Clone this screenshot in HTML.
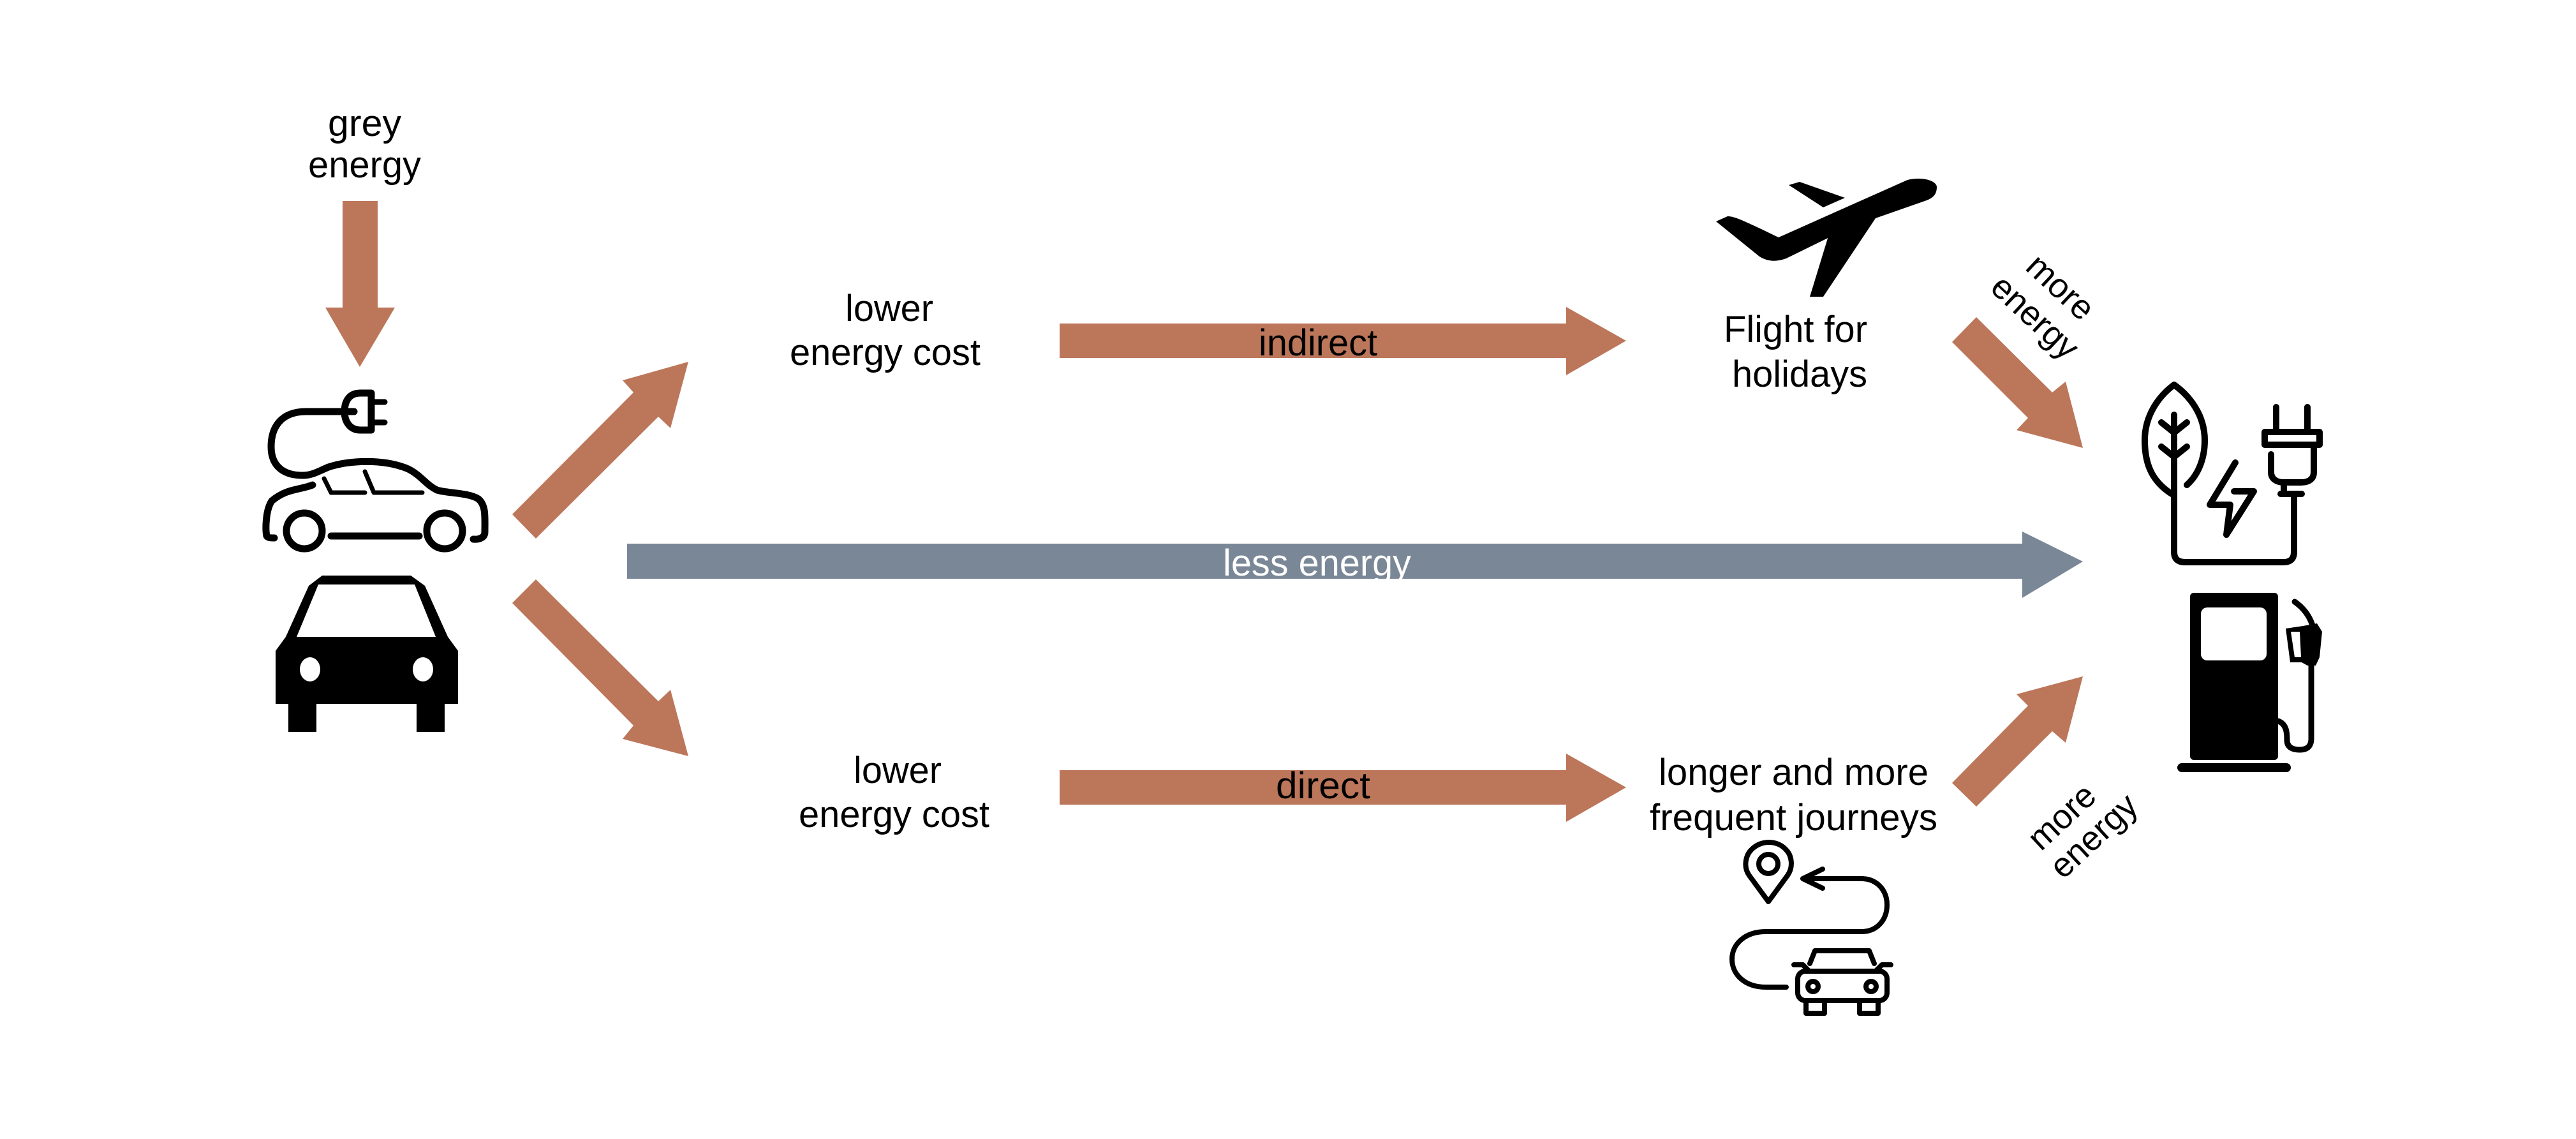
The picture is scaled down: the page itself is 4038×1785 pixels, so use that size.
<!DOCTYPE html>
<html><head><meta charset="utf-8"><style>html,body{margin:0;padding:0;background:#fff}svg{display:block}</style></head>
<body>
<svg xmlns="http://www.w3.org/2000/svg" width="4038" height="1785" viewBox="0 0 4038 1785" font-family="Liberation Sans, Arial, sans-serif">
<defs><clipPath id="gc"><rect x="980" y="852" width="2300" height="55"/></clipPath></defs>
<rect width="4038" height="1785" fill="#fff"/>
<g fill="#bc765a">
<polygon points="537,315 592,315 592,482 619,482 564,575 510,482 537,482"/>
<polygon points="803,806 840,844 1032,653 1051,671 1079,567 976,596 993,615"/>
<polygon points="803,945 840,908 1032,1099 1051,1081 1079,1185 976,1158 993,1137"/>
<polygon points="1661,507 2455,507 2455,481 2549,534 2455,588 2455,561 1661,561"/>
<polygon points="1661,1207 2455,1207 2455,1181 2549,1234 2455,1288 2455,1261 1661,1261"/>
<polygon points="3060,536 3098,497 3217,615 3238,598 3265,702 3161,674 3179,655"/>
<polygon points="3060,1227 3098,1264 3217,1146 3238,1164 3265,1060 3161,1088 3179,1106"/>
</g>
<polygon fill="#7a8797" points="983,852 3170,852 3170,833 3265,880 3170,937 3170,907 983,907"/>

<g font-size="58" fill="#000" text-anchor="start">
<text x="514" y="213" textLength="115" lengthAdjust="spacingAndGlyphs">grey</text>
<text x="483" y="278" textLength="177" lengthAdjust="spacingAndGlyphs">energy</text>
<text x="1325" y="503" textLength="138" lengthAdjust="spacingAndGlyphs">lower</text>
<text x="1238" y="572" textLength="299" lengthAdjust="spacingAndGlyphs">energy cost</text>
<text x="1338" y="1227" textLength="138" lengthAdjust="spacingAndGlyphs">lower</text>
<text x="1252" y="1296" textLength="299" lengthAdjust="spacingAndGlyphs">energy cost</text>
<text x="1973" y="557" textLength="186" lengthAdjust="spacingAndGlyphs">indirect</text>
<text x="2000" y="1251" textLength="148" lengthAdjust="spacingAndGlyphs">direct</text>
<text x="2702" y="536" textLength="225" lengthAdjust="spacingAndGlyphs">Flight for</text>
<text x="2715" y="606" textLength="212" lengthAdjust="spacingAndGlyphs">holidays</text>
<text x="2600" y="1230" textLength="423" lengthAdjust="spacingAndGlyphs">longer and more</text>
<text x="2586" y="1301" textLength="451" lengthAdjust="spacingAndGlyphs">frequent journeys</text>
</g>
<text x="1917" y="902" font-size="58" fill="#fff" textLength="295" lengthAdjust="spacingAndGlyphs" clip-path="url(#gc)">less energy</text>

<g font-size="54" fill="#000" text-anchor="middle">
<text transform="translate(3230,450) rotate(43)" y="18">more</text>
<text transform="translate(3190,497) rotate(43)" y="18">energy</text>
<text transform="translate(3232,1280) rotate(-43)" y="18">more</text>
<text transform="translate(3282,1310) rotate(-43)" y="18">energy</text>
</g>

<!-- EV car outline -->
<g fill="none" stroke="#000" stroke-width="11" stroke-linecap="round" stroke-linejoin="round">
<path d="M555,645 L480,645 C440,645 425,670 425,700 C425,735 450,745 474,745 C490,745 500,738 515,732 C545,722 600,718 640,735 C660,745 668,760 685,768 C700,773 735,772 750,782 C762,792 760,810 760,834 C760,842 752,846 742,845"/>
<path d="M582,616 L565,616 C545,616 540,632 540,645 C540,660 548,674 565,674 L582,674 Z"/>
<path d="M582,630 L603,630 M582,662 L603,662" stroke-width="9"/>
<path d="M490,760 C470,768 450,765 426,785 C416,800 416,830 418,840 C420,843 425,843 430,843"/>
<circle cx="477" cy="832" r="28"/>
<circle cx="697" cy="832" r="28"/>
<path d="M519,840 L657,840"/>
<path d="M508,750 L519,772 L572,772 M572,739 L586,772 L662,772" stroke-width="7"/>
</g>
<polygon fill="#000" points="505,902 644,902 666,918 702,998 718,1020 718,1103 697,1103 697,1147 653,1147 653,1103 496,1103 496,1147 452,1147 452,1103 432,1103 432,1020 448,998 484,918"/>
<polygon fill="#fff" points="499,916 650,916 683,998 465,998"/>
<ellipse cx="486" cy="1049" rx="16" ry="19" fill="#fff"/>
<ellipse cx="663" cy="1049" rx="16" ry="19" fill="#fff"/>

<g fill="#000">
<path d="M2690,347 L2708,339 C2718,339 2728,343 2788,372 L2990,282 C3015,276 3036,284 3036,293 C3036,305 3030,310 3020,314 L2900,356 L2800,405 C2780,412 2768,408 2758,402 Z"/>
<polygon points="2804,290 2821,285 2892,310 2858,325"/>
<polygon points="2867,367 2942,339 2858,465 2837,465"/>
</g>

<g fill="none" stroke="#000" stroke-width="8" stroke-linecap="round" stroke-linejoin="round">
<path d="M2772,1413 L2742,1372 C2732,1358 2737,1340 2745,1332 C2760,1316 2786,1316 2800,1332 C2808,1340 2812,1358 2802,1372 Z"/>
<circle cx="2772" cy="1354" r="15"/>
<path d="M2857,1362 L2826,1377 L2857,1392 M2826,1377 L2918,1377 C2942,1377 2958,1395 2958,1418 C2958,1442 2942,1460 2918,1460 L2768,1460 C2735,1460 2715,1480 2715,1503 C2715,1527 2735,1547 2768,1547 L2800,1547"/>
<path d="M2837,1510 L2845,1490 L2930,1490 L2938,1510"/>
<rect x="2818" y="1522" width="140" height="46" rx="12"/>
<path d="M2812,1512 L2826,1512 L2836,1522 M2964,1512 L2950,1512 L2940,1522"/>
<circle cx="2842" cy="1546" r="8"/><circle cx="2933" cy="1546" r="8"/>
<path d="M2831,1568 L2831,1588 L2860,1588 L2860,1568 M2915,1568 L2915,1588 L2944,1588 L2944,1568"/>
</g>

<g fill="none" stroke="#000" stroke-width="10" stroke-linecap="round" stroke-linejoin="round">
<path d="M3404,774 C3375,755 3362,730 3362,690 C3362,650 3385,620 3408,603 C3432,620 3456,650 3456,690 C3456,720 3445,745 3428,760"/>
<path d="M3408,650 L3408,865 C3408,876 3414,881 3425,881 L3580,881 C3590,881 3596,876 3596,865 L3596,774"/>
<path d="M3388,662 L3408,678 L3428,662 M3388,700 L3408,716 L3428,700"/>
<path d="M3575,774 L3608,774"/>
<path d="M3568,638 L3568,675 M3617,638 L3617,675"/>
<rect x="3550" y="677" width="86" height="20"/>
<path d="M3560,712 L3560,740 C3560,750 3568,756 3580,756 L3607,756 C3620,756 3627,750 3627,740 L3627,700"/>
<path d="M3580,756 L3580,774"/>
<path d="M3504,725 L3464,791 L3496,791 L3490,838 L3533,770 L3502,770"/>
</g>

<g fill="#000">
<rect x="3433" y="929" width="138" height="262" rx="6"/>
<rect x="3413" y="1196" width="178" height="14" rx="7"/>
<polygon points="3583,985 3610,981 3632,977 3640,990 3636,1030 3630,1043 3617,1043 3608,1038 3590,1038"/>
</g>
<rect x="3450" y="952" width="103" height="83" rx="10" fill="#fff"/>
<path d="M3591,990 L3605,990 L3607,1030 L3597,1030 Z" fill="#fff"/>
<g fill="none" stroke="#000" stroke-width="9" stroke-linecap="round">
<path d="M3571,1130 C3585,1135 3585,1150 3585,1160 C3585,1172 3595,1175 3605,1175 C3618,1175 3623,1168 3623,1158 L3623,1040"/>
<path d="M3597,943 C3610,952 3620,965 3625,980"/>
</g>
</svg>
</body></html>
